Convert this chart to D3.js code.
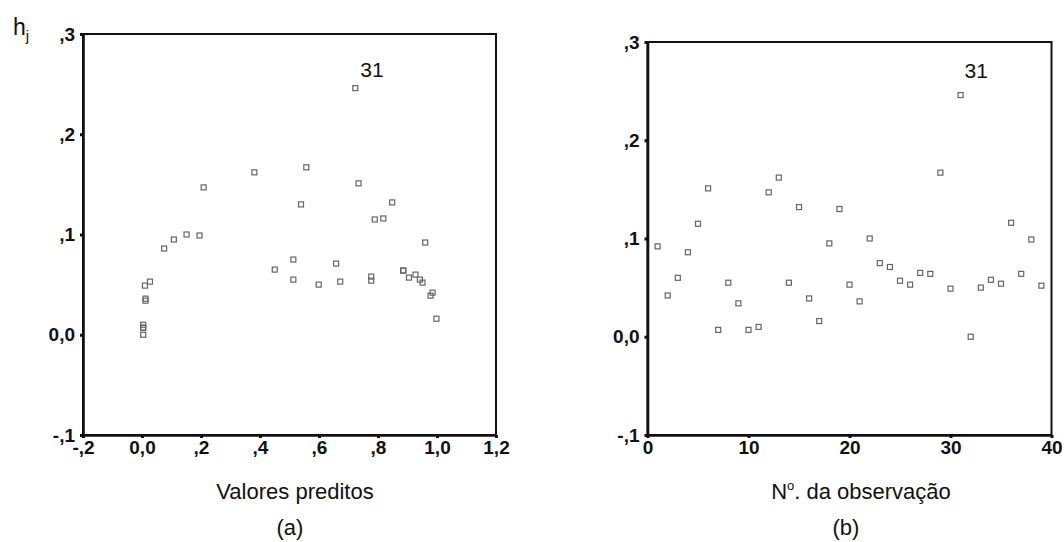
<!DOCTYPE html>
<html>
<head>
<meta charset="utf-8">
<script src="https://cdn.jsdelivr.net/npm/d3@7"></script>
<style>
	body { margin: 0; background: #fff; }
	svg text { font-family: "Liberation Sans", Arial, sans-serif; fill: #111; }
	.axis text { font-size: 19px; font-weight: bold; }
	.axis path, .axis line { stroke: #111; }
	.axTitle { font-size: 22px; }
	.pointLabel { font-size: 21px; }
</style>
</head>
<body>
<svg class="levGraph" width="1064" height="542"></svg>
<script>
// observation number 1..39
var obsNumber = d3.range(1, 40);
// leverage h_j for each observation
var leverage = [0.092, 0.042, 0.060, 0.086, 0.115, 0.151, 0.007, 0.055, 0.034, 0.007,
				0.010, 0.147, 0.162, 0.055, 0.132, 0.039, 0.016, 0.095, 0.130, 0.053,
				0.036, 0.100, 0.075, 0.071, 0.057, 0.053, 0.065, 0.064, 0.167, 0.049,
				0.246, 0.000, 0.050, 0.058, 0.054, 0.116, 0.064, 0.099, 0.052];
// predicted value for each observation
var predicted = [0.960, 0.985, 0.927, 0.075, 0.789, 0.734, 0.004, 0.942, 0.012, 0.004,
				0.004, 0.209, 0.381, 0.513, 0.848, 0.978, 0.998, 0.108, 0.539, 0.027,
				0.012, 0.151, 0.513, 0.658, 0.905, 0.672, 0.450, 0.885, 0.557, 0.010,
				0.723, 0.004, 0.599, 0.777, 0.777, 0.818, 0.886, 0.195, 0.951];
var hTicks = [-0.1, 0, 0.1, 0.2, 0.3];
var predTicks = [-0.2, 0, 0.2, 0.4, 0.6, 0.8, 1.0, 1.2];
var obsTicks = [0, 10, 20, 30, 40];
var flaggedObs = 31;

// portuguese style: ",3"  "0,0"  "-,1"  "1,2"
function ptFormat(v) {
	if (Math.abs(v) < 1e-9) return "0,0";
	var s = d3.format(".1f")(v).replace("\u2212", "-");
	return s.replace(/^(-?)0\./, "$1,").replace(".", ",");
}

var lev_screen = {
	svg:	null,
	panels:	null,

	setup: function() {
		this.svg = d3.select(".levGraph");
		this.panels = [
			{ id: "a", left: 83, right: 496, top: 34, bottom: 435,
			  xVals: predicted, xTicks: predTicks, xFmt: ptFormat,
			  title: "Valores preditos", titleX: 295, tag: "(a)", tagX: 290,
			  lblDx: 5, lblDy: -11 },
			{ id: "b", left: 647.5, right: 1051.5, top: 42, bottom: 435,
			  xVals: obsNumber, xTicks: obsTicks, xFmt: d3.format("d"),
			  title: null, titleX: 861, tag: "(b)", tagX: 846,
			  lblDx: 4, lblDy: -17 }
		];
		this.panels.forEach(function(p) {
			p.xScale = d3.scaleLinear().domain(d3.extent(p.xTicks)).range([p.left, p.right]);
			p.yScale = d3.scaleLinear().domain(d3.extent(hTicks)).range([p.bottom, p.top]);
		});
	},

	drawPanel: function(p) {
		var g = this.svg.append("g").attr("class", "panel_" + p.id);

		// frame
		g.append("rect")
			.attr("x", p.left)
			.attr("y", p.top)
			.attr("width", p.right - p.left)
			.attr("height", p.bottom - p.top)
			.attr("fill", "none")
			.attr("stroke", "#111")
			.attr("stroke-width", 2);

		var yAx = g.append("g")
			.attr("class", "axis yAxis")
			.attr("transform", "translate(" + p.left + ",0)")
			.call(d3.axisLeft(p.yScale).tickValues(hTicks).tickFormat(ptFormat)
				.tickSize(3).tickSizeOuter(0).tickPadding(5));

		var xAx = g.append("g")
			.attr("class", "axis xAxis")
			.attr("transform", "translate(0," + p.bottom + ")")
			.call(d3.axisBottom(p.xScale).tickValues(p.xTicks).tickFormat(p.xFmt)
				.tickSize(3).tickSizeOuter(0).tickPadding(3));

		[yAx, xAx].forEach(function(ax) {
			ax.select(".domain").attr("stroke-width", 2.6);
			ax.selectAll(".tick line").attr("stroke-width", 3);
		});

		// leverage points (small hollow squares)
		g.selectAll(".levDot")
			.data(leverage)
			.enter().append("rect")
			.attr("class", "levDot")
			.attr("width", 5)
			.attr("height", 5)
			.attr("x", function(d, i) { return p.xScale(p.xVals[i]) - 2.5; })
			.attr("y", function(d) { return p.yScale(d) - 2.5; })
			.attr("fill", "none")
			.attr("stroke", "#666")
			.attr("stroke-width", 1.2);

		// label the high leverage observation
		var k = flaggedObs - 1;
		g.append("text")
			.attr("class", "pointLabel")
			.attr("x", p.xScale(p.xVals[k]) + p.lblDx)
			.attr("y", p.yScale(leverage[k]) + p.lblDy)
			.text(String(flaggedObs));

		// axis title
		var t = g.append("text")
			.attr("class", "axTitle")
			.attr("text-anchor", "middle")
			.attr("x", p.titleX)
			.attr("y", 499);
		if (p.title) {
			t.text(p.title);
		} else {
			t.append("tspan").text("N");
			t.append("tspan").attr("font-size", "13px").attr("dy", -9).text("o");
			t.append("tspan").attr("dy", 9).text(". da observação");
		}

		g.append("text")
			.attr("class", "axTitle")
			.attr("text-anchor", "middle")
			.attr("x", p.tagX)
			.attr("y", 535)
			.text(p.tag);
	},

	draw: function() {
		var self = this;
		this.panels.forEach(function(p) { self.drawPanel(p); });

		// y label h_j
		var h = this.svg.append("text")
			.attr("x", 13)
			.attr("y", 35)
			.attr("font-size", "23px");
		h.append("tspan").text("h");
		h.append("tspan").attr("font-size", "15px").attr("dy", 6).text("j");
	}
};

lev_screen.setup();
lev_screen.draw();
</script>
</body>
</html>
